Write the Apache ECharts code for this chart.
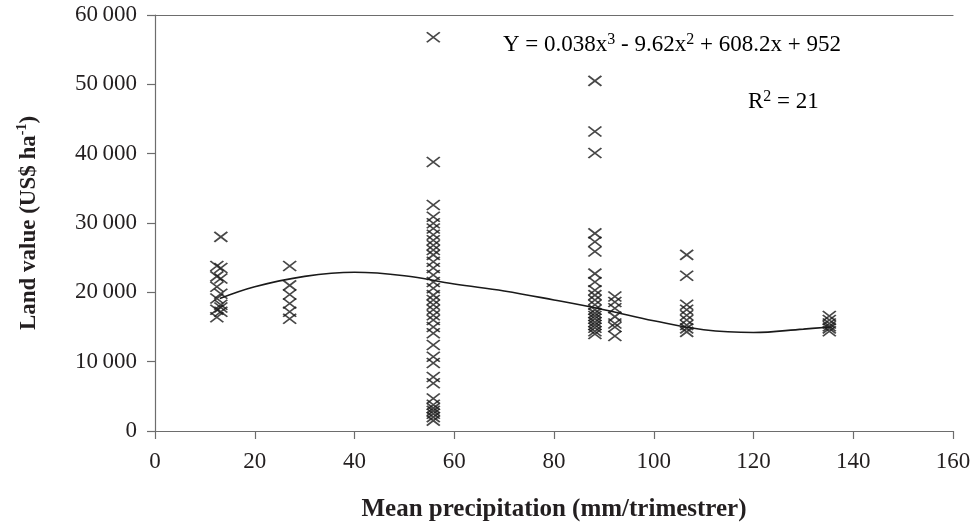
<!DOCTYPE html>
<html>
<head>
<meta charset="utf-8">
<script src="https://cdn.jsdelivr.net/npm/echarts@6/dist/echarts.min.js"></script>
<style>
  html, body { margin: 0; padding: 0; background: #fff; }
  #chart { width: 970px; height: 523px; }
</style>
</head>
<body>
<div id="chart"></div>
<script>
// precipitation (x) of each sampled site and the land values measured there
const siteX = [12.4, 13.2, 27, 55.8, 88.2, 92.2, 106.6, 135.2]
const site12 = [23800, 22300, 20800, 19100, 17500, 16400]
const site13 = [28000, 23500, 22000, 19800, 18200, 17800, 17200]
const site27 = [23800, 21000, 19700, 18400, 17200, 16200]
const site56 = [56800, 38800, 32600, 30900, 29950, 29200, 28300, 27500, 26800, 26100, 25400, 24400, 23500, 22500, 21500, 20600, 19600, 18900, 18200, 17500, 16700, 16000, 15000, 14100, 12400, 10700, 9800, 7800, 6900, 4700, 3800, 3300, 2900, 2500, 2000, 1500]
const site88 = [50500, 43200, 40100, 28500, 27300, 25900, 22700, 21500, 20300, 19600, 18900, 18200, 17500, 17000, 16600, 16200, 15700, 15300, 14900, 14400, 14000]
const site92 = [19400, 18600, 17700, 16500, 15500, 15000, 13700]
const site106 = [25400, 22400, 18200, 17500, 16700, 16000, 15300, 14800, 14300]
const site135 = [16600, 16000, 15500, 15100, 14800, 14400]
const siteValues = [site12, site13, site27, site56, site88, site92, site106, site135]

// fitted cubic trend
const curveX = [13, 20, 30, 40, 50, 60, 70, 80, 90, 100, 110, 120, 130, 135.5]
const curveY = [19100, 20800, 22300, 22900, 22400, 21200, 20200, 18900, 17500, 15900, 14600, 14200, 14700, 15000]

const xTicks = [0, 20, 40, 60, 80, 100, 120, 140, 160]
const yTicks = [0, 10000, 20000, 30000, 40000, 50000, 60000]

const equationText = '{a|Y = 0.038x}{s|3}{a| - 9.62x}{s|2}{a| + 608.2x + 952}'
const r2Text = '{a|R}{s|2}{a| = 21}'

const points = []
siteValues.forEach((vals, i) => {
  vals.forEach(v => points.push([siteX[i], v]))
})
const curve = curveX.map((x, i) => [x, curveY[i]])

const serif = '"Liberation Serif", "Times New Roman", serif'
const ink = '#231f20'
const axisGray = '#6d6d6d'

const fmtThousands = v => v >= 1000 ? String(v).replace(/(\d)(?=(\d{3})$)/, '$1\u2009') : String(v)

const annoRich = {
  a: { fontFamily: serif, fontSize: 23, color: ink, lineHeight: 26 },
  s: { fontFamily: serif, fontSize: 16, color: ink, lineHeight: 19, verticalAlign: 'top' }
}

const chart = echarts.init(document.getElementById('chart'))
chart.setOption({
  animation: false,
  backgroundColor: '#fff',
  grid: { left: 155, right: 17, top: 15, bottom: 92, outerBoundsMode: 'none' },
  xAxis: [
    {
      type: 'value',
      min: xTicks[0],
      max: xTicks[xTicks.length - 1],
      interval: 20,
      splitLine: { show: false },
      axisLine: { show: true, onZero: false, lineStyle: { color: axisGray, width: 1.2 } },
      axisTick: { show: true, length: 8, lineStyle: { color: axisGray, width: 1.2 } },
      axisLabel: { color: ink, fontFamily: serif, fontSize: 23, margin: 19 },
      name: 'Mean precipitation (mm/trimestrer)',
      nameLocation: 'middle',
      nameGap: 66,
      nameTextStyle: { color: ink, fontFamily: serif, fontSize: 25, fontWeight: 'bold' }
    },
    {
      type: 'value',
      position: 'top',
      min: xTicks[0],
      max: xTicks[xTicks.length - 1],
      splitLine: { show: false },
      axisLine: { show: true, onZero: false, lineStyle: { color: axisGray, width: 1.2 } },
      axisTick: { show: false },
      axisLabel: { show: false }
    }
  ],
  yAxis: {
    type: 'value',
    min: yTicks[0],
    max: yTicks[yTicks.length - 1],
    interval: 10000,
    splitLine: { show: false },
    axisLine: { show: true, onZero: false, lineStyle: { color: axisGray, width: 1.2 } },
    axisTick: { show: true, length: 8, lineStyle: { color: axisGray, width: 1.2 } },
    axisLabel: { color: ink, fontFamily: serif, fontSize: 23, margin: 18, formatter: fmtThousands },
    name: '{a|Land value (US$ ha}{s|-1}{a|)}',
    nameLocation: 'middle',
    nameGap: 112,
    nameRotate: 90,
    nameTextStyle: {
      color: ink,
      fontFamily: serif,
      fontWeight: 'bold',
      rich: {
        a: { fontFamily: serif, fontSize: 23, fontWeight: 'bold', color: ink, lineHeight: 28 },
        s: { fontFamily: serif, fontSize: 14, fontWeight: 'bold', color: ink, lineHeight: 16, verticalAlign: 'top' }
      }
    }
  },
  graphic: [
    {
      type: 'text',
      left: 503,
      top: 32,
      style: { text: equationText, rich: annoRich }
    },
    {
      type: 'text',
      left: 748,
      top: 89,
      style: { text: r2Text, rich: annoRich }
    }
  ],
  series: [
    {
      type: 'scatter',
      data: points,
      symbol: 'path://M0,0L12,10M12,0L0,10',
      symbolSize: [13, 10],
      itemStyle: { color: 'rgba(0,0,0,0)', borderColor: '#1a1a1a', borderWidth: 1.7 },
      z: 3
    },
    {
      type: 'line',
      data: curve,
      smooth: 0.4,
      showSymbol: false,
      symbol: 'none',
      lineStyle: { color: '#1a1a1a', width: 1.6 },
      z: 2
    }
  ]
})
</script>
</body>
</html>
